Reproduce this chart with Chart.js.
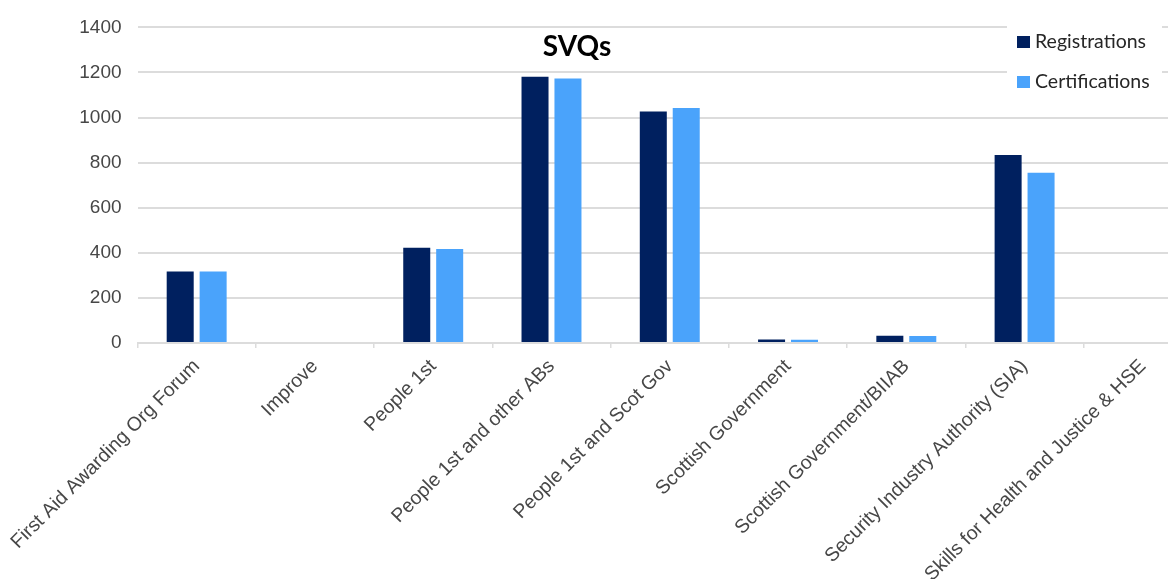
<!DOCTYPE html>
<html>
<head>
<meta charset="utf-8">
<script src="https://cdn.jsdelivr.net/npm/chart.js@4.4.1/dist/chart.umd.min.js"></script>
<style>
  html, body { margin: 0; padding: 0; background: #fff; overflow: hidden; width: 1168px; height: 579px; }
  #wrap { position: absolute; left: 0; top: 0; width: 1215px; height: 579px; }
</style>
</head>
<body>
<div id="wrap"><canvas id="chart" width="1215" height="579"></canvas></div>
<script>
const categories = [
  'First Aid Awarding Org Forum',
  'Improve',
  'People 1st',
  'People 1st and other ABs',
  'People 1st and Scot Gov',
  'Scottish Government',
  'Scottish Government/BIIAB',
  'Security Industry Authority (SIA)',
  'Skills for Health and Justice & HSE',
];
const registrations = [317, 0, 423, 1181, 1027, 16, 32, 834, 0];
const certifications = [317, 0, 417, 1173, 1042, 14, 31, 755, 0];
const yMin = 0;
const yMax = 1400;
const yStep = 200;

const labelColor = '#474747';
const gridColor = '#dcdcdc';

// title and legend sit inside the plot, over the gridlines
const overlay = {
  id: 'overlay',
  afterDraw(chart) {
    const ctx = chart.ctx;
    ctx.save();
    ctx.fillStyle = '#000';
    ctx.font = 'bold 28px Lato';
    ctx.textAlign = 'center';
    ctx.textBaseline = 'middle';
    ctx.fillText('SVQs', 577, 47);

    ctx.fillStyle = '#fff';
    ctx.fillRect(1007, 17, 155, 86);
    ctx.font = '19.5px Lato';
    ctx.textAlign = 'left';
    chart.data.datasets.forEach((ds, i) => {
      const y = 42 + i * 40;
      ctx.fillStyle = ds.backgroundColor;
      ctx.fillRect(1017, y - 6, 13, 12);
      ctx.fillStyle = '#262626';
      ctx.fillText(ds.label, 1035, y);
    });
    ctx.restore();
  },
};

new Chart(document.getElementById('chart'), {
  type: 'bar',
  data: {
    labels: categories,
    datasets: [
      {
        label: 'Registrations',
        data: registrations,
        backgroundColor: '#00205f',
        categoryPercentage: 0.557,
        barPercentage: 0.82,
      },
      {
        label: 'Certifications',
        data: certifications,
        backgroundColor: '#4aa3fb',
        categoryPercentage: 0.557,
        barPercentage: 0.82,
      },
    ],
  },
  options: {
    responsive: false,
    animation: false,
    layout: { padding: { top: 24, right: 13, left: 0, bottom: 0 } },
    scales: {
      x: {
        grid: { drawOnChartArea: false, drawTicks: true, tickLength: 5, color: gridColor, lineWidth: 1.5 },
        border: { display: true, color: gridColor, width: 2 },
        ticks: {
          color: labelColor,
          font: { family: 'Liberation Sans', size: 19.5 },
          minRotation: 45,
          maxRotation: 45,
          autoSkip: false,
          padding: 7,
        },
        afterFit: (scale) => { scale.height = 236; },
      },
      y: {
        min: yMin,
        max: yMax,
        grid: { color: gridColor, lineWidth: 2, drawTicks: false },
        border: { display: false },
        ticks: {
          stepSize: yStep,
          color: labelColor,
          font: { family: 'Liberation Sans', size: 19 },
          padding: 16,
          callback: (v) => String(v),
        },
        afterFit: (scale) => { scale.width = 136; },
      },
    },
    plugins: {
      legend: { display: false },
      title: { display: false },
      tooltip: { enabled: false },
    },
  },
  plugins: [overlay],
});
</script>
</body>
</html>
